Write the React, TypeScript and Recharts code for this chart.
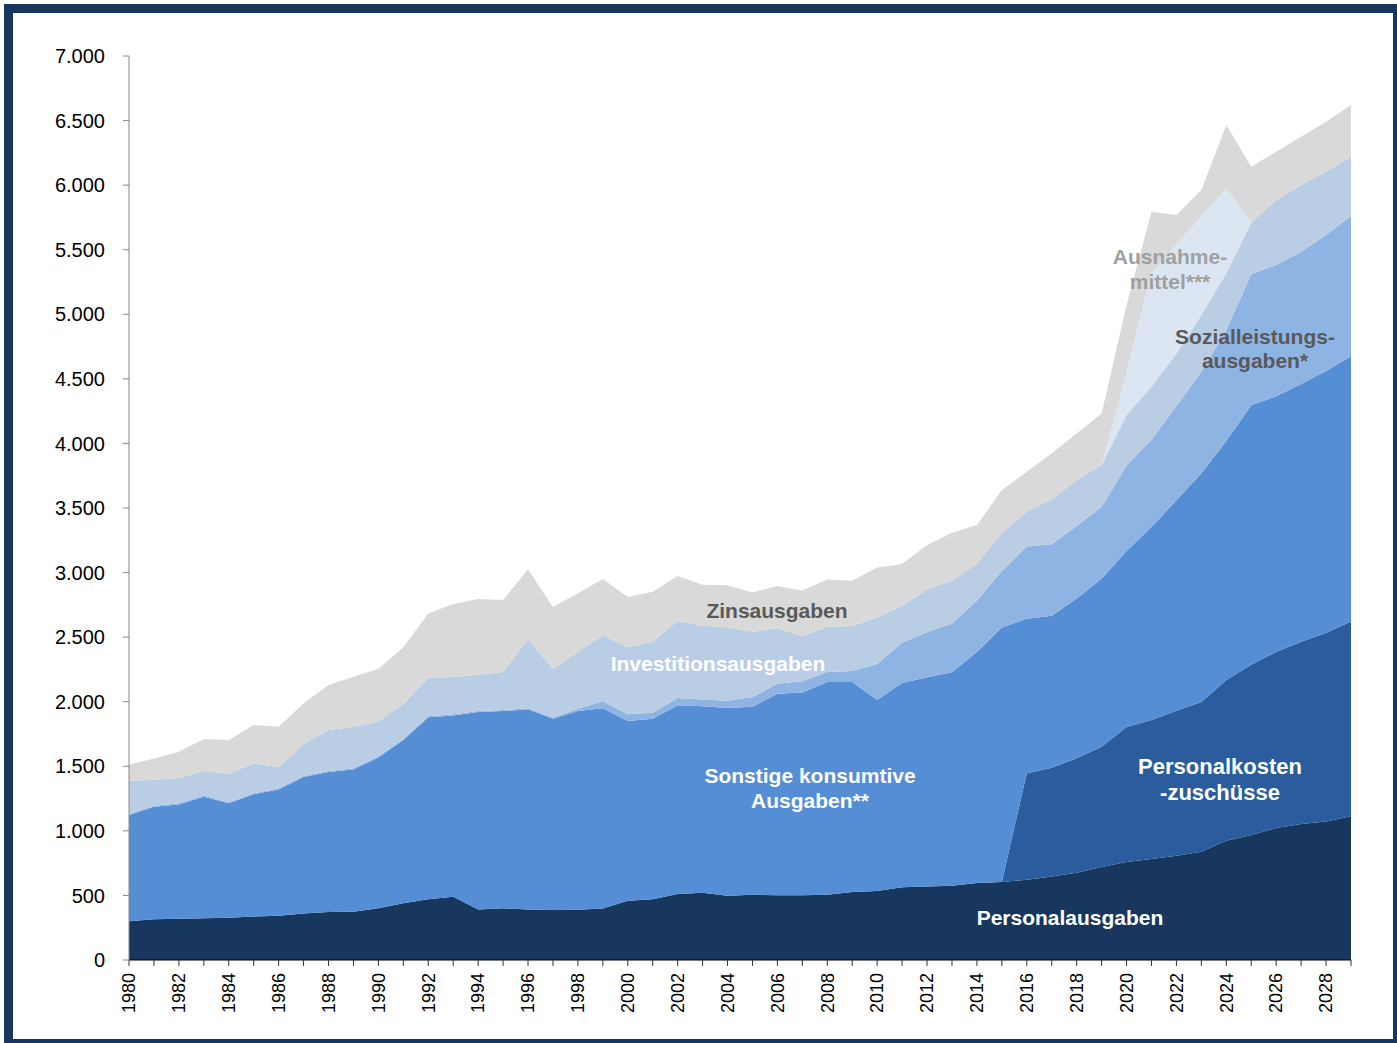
import { AreaChart, Area, XAxis, YAxis } from 'recharts'

const years = [
    1980, 1981, 1982, 1983, 1984, 1985, 1986, 1987, 1988, 1989,
    1990, 1991, 1992, 1993, 1994, 1995, 1996, 1997, 1998, 1999,
    2000, 2001, 2002, 2003, 2004, 2005, 2006, 2007, 2008, 2009,
    2010, 2011, 2012, 2013, 2014, 2015, 2016, 2017, 2018, 2019,
    2020, 2021, 2022, 2023, 2024, 2025, 2026, 2027, 2028, 2029,
]

const personal = [
    300, 315, 319, 324, 328, 336, 343, 361, 372, 374,
    400, 439, 470, 490, 392, 400, 392, 387, 390, 399,
    459, 470, 511, 521, 498, 506, 501, 501, 506, 527,
    534, 563, 569, 575, 596, 604, 622, 646, 675, 720,
    759, 782, 808, 838, 924, 968, 1022, 1054, 1072, 1113,
]

const zuschuesse = [
    0, 0, 0, 0, 0, 0, 0, 0, 0, 0,
    0, 0, 0, 0, 0, 0, 0, 0, 0, 0,
    0, 0, 0, 0, 0, 0, 0, 0, 0, 0,
    0, 0, 0, 0, 0, 0, 824, 843, 887, 931,
    1046, 1076, 1122, 1160, 1245, 1319, 1363, 1411, 1461, 1509,
]

const sonstige = [
    823, 872, 886, 941, 885, 947, 978, 1056, 1084, 1102,
    1169, 1264, 1409, 1404, 1528, 1528, 1549, 1482, 1538, 1550,
    1392, 1399, 1461, 1443, 1453, 1455, 1561, 1571, 1646, 1625,
    1479, 1582, 1621, 1654, 1789, 1971, 1196, 1177, 1237, 1302,
    1363, 1495, 1630, 1771, 1849, 2009, 1980, 1995, 2027, 2053,
]

const sozial = [
    8, 8, 8, 8, 8, 8, 8, 8, 8, 8,
    8, 8, 8, 8, 8, 8, 8, 8, 18, 54,
    52, 46, 57, 54, 57, 75, 77, 86, 78, 86,
    279, 311, 349, 375, 396, 437, 559, 553, 561, 555,
    661, 676, 730, 786, 860, 1016, 1016, 1024, 1053, 1086,
]

const invest = [
    257, 201, 196, 193, 219, 232, 163, 247, 317, 320,
    271, 271, 299, 289, 281, 294, 534, 379, 439, 511,
    518, 552, 596, 571, 568, 506, 432, 348, 351, 348,
    361, 285, 331, 333, 290, 296, 269, 349, 357, 325,
    391, 410, 407, 439, 439, 397, 504, 517, 491, 459,
]

const ausnahme = [
    0, 0, 0, 0, 0, 0, 0, 0, 0, 0,
    0, 0, 0, 0, 0, 0, 0, 0, 0, 0,
    0, 0, 0, 0, 0, 0, 0, 0, 0, 0,
    0, 0, 0, 0, 0, 0, 0, 0, 0, 0,
    325, 881, 847, 766, 658, 0, 0, 0, 0, 0,
]

const zins = [
    124, 165, 204, 245, 263, 297, 314, 315, 348, 390,
    408, 439, 498, 566, 586, 558, 542, 477, 454, 436,
    390, 385, 348, 317, 325, 304, 325, 356, 366, 351,
    387, 325, 343, 371, 297, 331, 311, 355, 360, 398,
    525, 474, 224, 202, 491, 434, 374, 374, 387, 400,
]

const yTicks = [0, 500, 1000, 1500, 2000, 2500, 3000, 3500, 4000, 4500, 5000, 5500, 6000, 6500, 7000]

const data = years.map((y, i) => ({
    year: y,
    personal: personal[i],
    zuschuesse: zuschuesse[i],
    sonstige: sonstige[i],
    sozial: sozial[i],
    invest: invest[i],
    ausnahme: ausnahme[i],
    zins: zins[i],
}))

const FONT = '"Liberation Sans", Arial, sans-serif'

const fmt = (v: number) =>
    v >= 1000 ? `${Math.floor(v / 1000)}.${String(v % 1000).padStart(3, '0')}` : String(v)

const YearTick = ({ x, y, payload }: any) => {
    if (payload.value % 2 !== 0) return null
    return (
        <text
            x={x}
            y={y}
            transform={`rotate(-90, ${x}, ${y})`}
            textAnchor="end"
            dy="0.35em"
            fontSize={18}
            fontFamily={FONT}
            fill="#000"
        >
            {payload.value}
        </text>
    )
}

// centred text block, (cx, cy) = middle of the whole block
const label = (cx: number, cy: number, lines: string[], color: string, size = 21, lh = 25) => (
    <div
        style={{
            position: 'absolute',
            left: cx - 200,
            top: cy - (lines.length * lh) / 2,
            width: 400,
            textAlign: 'center',
            fontFamily: FONT,
            fontWeight: 'bold',
            fontSize: size,
            lineHeight: `${lh}px`,
            color,
            whiteSpace: 'nowrap',
        }}
    >
        {lines.map((l) => (
            <div key={l}>{l}</div>
        ))}
    </div>
)

const App = () => {
    return (
        <div style={{ position: 'fixed', left: 0, top: 0, width: 1397, height: 1043, overflow: 'hidden', background: '#fff' }}>
            <div
                style={{
                    position: 'absolute',
                    left: 4,
                    top: 4,
                    width: 1380,
                    height: 1026,
                    border: '9px solid #17375e',
                }}
            />
            <div style={{ position: 'absolute', left: 0, top: 0 }}>
                <AreaChart width={1397} height={1043} data={data} margin={{ top: 56, right: 46, bottom: 0, left: 0 }}>
                    <XAxis
                        dataKey="year"
                        type="number"
                        domain={[1980, 2029]}
                        ticks={years}
                        interval={0}
                        height={83}
                        tick={<YearTick />}
                        tickSize={6}
                        tickMargin={7}
                        stroke="#000"
                        tickLine={{ stroke: '#333' }}
                    />
                    <YAxis
                        type="number"
                        domain={[0, 7000]}
                        ticks={yTicks}
                        interval={0}
                        width={129}
                        tickFormatter={fmt}
                        tickSize={6}
                        tickMargin={18}
                        stroke="#888"
                        tick={{ fill: '#000', fontSize: 20, fontFamily: FONT }}
                    />
                    <Area type="linear" dataKey="personal" stackId="1" fill="#17375e" fillOpacity={1} stroke="none" isAnimationActive={false} />
                    <Area type="linear" dataKey="zuschuesse" stackId="1" fill="#2a5c9e" fillOpacity={1} stroke="none" isAnimationActive={false} />
                    <Area type="linear" dataKey="sonstige" stackId="1" fill="#558ed5" fillOpacity={1} stroke="none" isAnimationActive={false} />
                    <Area type="linear" dataKey="sozial" stackId="1" fill="#8eb4e3" fillOpacity={1} stroke="none" isAnimationActive={false} />
                    <Area type="linear" dataKey="invest" stackId="1" fill="#b9cde5" fillOpacity={1} stroke="none" isAnimationActive={false} />
                    <Area type="linear" dataKey="ausnahme" stackId="1" fill="#dce6f2" fillOpacity={1} stroke="none" isAnimationActive={false} />
                    <Area type="linear" dataKey="zins" stackId="1" fill="#d9d9d9" fillOpacity={1} stroke="none" isAnimationActive={false} />
                </AreaChart>
            </div>
            {label(777, 610, ['Zinsausgaben'], '#595959')}
            {label(718, 663, ['Investitionsausgaben'], '#ffffff')}
            {label(810, 788, ['Sonstige konsumtive', 'Ausgaben**'], '#ffffff')}
            {label(1070, 917, ['Personalausgaben'], '#ffffff')}
            {label(1220, 780, ['Personalkosten', '-zuschüsse'], '#ffffff', 22, 26)}
            {label(1170, 269, ['Ausnahme-', 'mittel***'], '#a0a0a0', 21, 25)}
            {label(1255, 349, ['Sozialleistungs-', 'ausgaben*'], '#595959', 21, 24)}
        </div>
    )
}

export default App
